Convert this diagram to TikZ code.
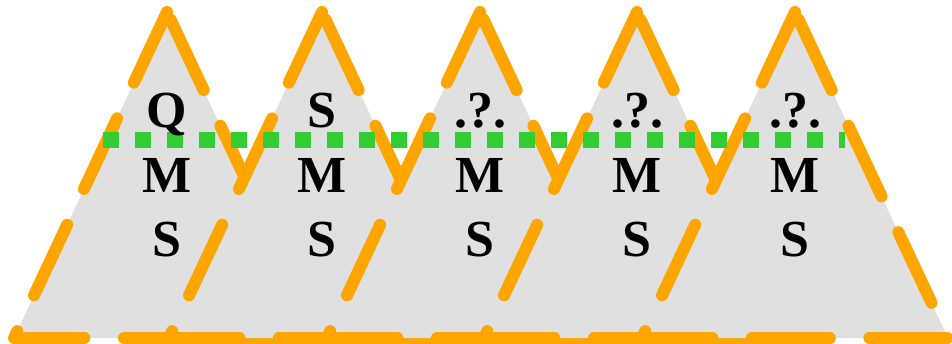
\documentclass[tikz,border=0pt]{standalone}
\usepackage{fontspec}
\setmainfont{Liberation Serif}
\definecolor{trigray}{HTML}{E0E0E0}
\definecolor{triorange}{HTML}{FFA500}
\definecolor{dotgreen}{HTML}{32CD32}
\begin{document}
\begin{tikzpicture}[x=1pt,y=-1pt,
  tri/.style={fill=trigray, draw=triorange, line width=12pt, line cap=round,
    line join=round, dash pattern=on 78pt off 39.5pt},
  guide/.style={draw=dotgreen, line width=15.5pt, dash pattern=on 15.5pt off 16.5pt},
  lbl/.style={font=\fontsize{52}{52}\selectfont\bfseries, anchor=base, inner sep=0pt}]
\useasboundingbox (0,0) rectangle (952,343);
% five overlapping triangles, each drawn over the previous one
\foreach \x in {167,322,480,637,795}{
  \path[tri] (\x,12) -- (\x-153,338) -- (\x+153,338) -- cycle;
}
% dotted level line across the triangles
\coordinate (gL) at (103,140);
\coordinate (gR) at (844.5,140);
\draw[guide] (gL) -- (gR);
% labels: top, middle and bottom rows
\node[lbl] (t1) at (167,127) {Q};
\node[lbl] (t2) at (322,127) {S};
\node[lbl] (t3) at (480,127) {.?.};
\node[lbl] (t4) at (637,127) {.?.};
\node[lbl] (t5) at (795,127) {.?.};
\foreach \x [count=\i] in {167,322,480,637,795}{
  \node[lbl] (m\i) at (\x,192) {M};
  \node[lbl] (s\i) at (\x,256) {S};
}
\end{tikzpicture}
\end{document}
